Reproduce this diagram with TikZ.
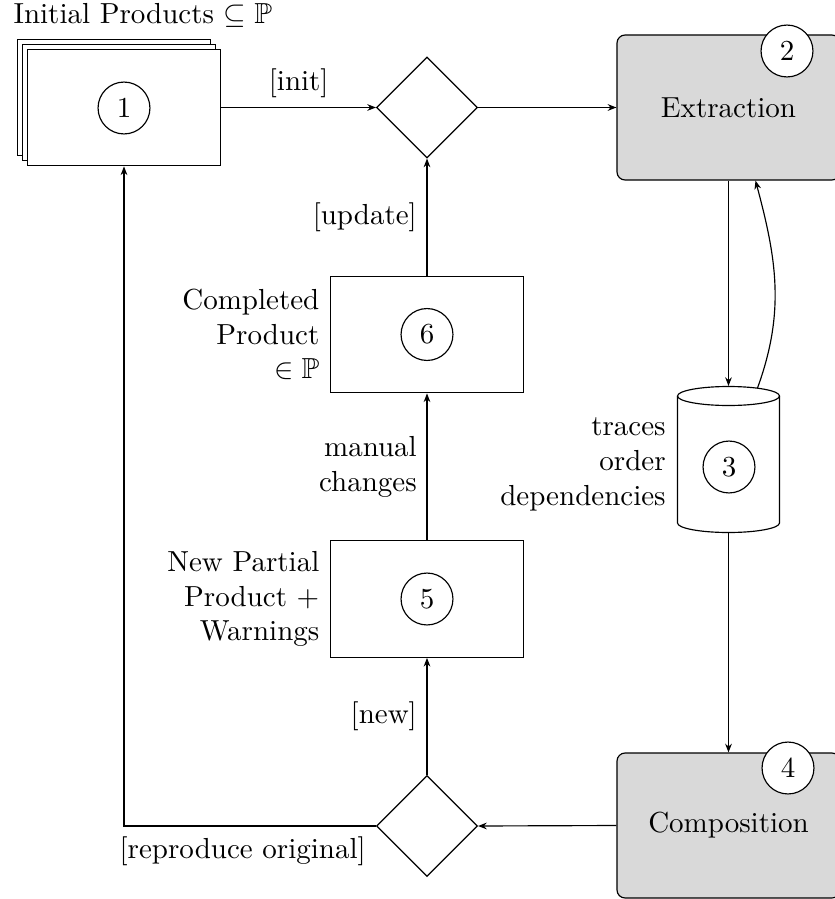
\documentclass[tikz,border=0pt]{standalone}
\usepackage{amssymb}
\usetikzlibrary{shapes.geometric,arrows.meta,calc}
\begin{document}
\begin{tikzpicture}[x=0.3448pt,y=0.3448pt,
  box/.style={draw, fill=white, minimum width=66.8pt, minimum height=40.2pt, inner sep=0pt},
  gbox/.style={draw, fill=black!15, rounded corners=2.8pt, minimum width=76.9pt, minimum height=50pt, inner sep=0pt},
  num/.style={draw, circle, fill=white, minimum size=17.9pt, inner sep=0pt},
  dec/.style={draw, diamond, minimum width=34.8pt, minimum height=34.8pt, inner sep=0pt, aspect=1},
  arr/.style={-{Stealth[length=3pt,width=2.3pt]}},
  lab/.style={align=right}
]
\useasboundingbox (0,0) rectangle (835,-899);
\clip (0,0) rectangle (835,-899);

% stacked products (1)
\node[box] (b1c) at (114,-97.5) {};
\node[box] (b1b) at (119,-102.5) {};
\node[box] (b1) at (124,-107.5) {};
\node[num] (n1) at (124,-108) {1};
\node[anchor=base west, inner sep=0pt] (title) at (13,-24) {Initial Products $\subseteq\mathbb{P}$};

% decisions
\node[dec] (d1) at (427,-107.5) {};
\node[dec] (d2) at (427,-826) {};

% extraction (2)
\node[gbox] (ext) at (728.5,-107.5) {Extraction};
\node[num] (n2) at (787,-51) {2};

% cylinder (3)
\node[minimum width=35.2pt, minimum height=50.3pt, inner sep=0pt] (cyl) at (728.5,-459.5) {};
\draw (677.5,-396) -- (677.5,-523) arc[start angle=180, end angle=360, x radius=51, y radius=9.5] -- (779.5,-396);
\draw (728.5,-396) ellipse [x radius=51, y radius=9.5];
\node[num] (n3) at (729,-467) {3};
\node[lab, anchor=east] (t3) at ($(cyl.west)+(-1,-5)$) {traces\\order\\dependencies};

% composition (4)
\node[gbox] (comp) at (728.5,-825.5) {Composition};
\node[num] (n4) at (788,-768) {4};

% new partial product (5)
\node[box] (b5) at (427,-599) {};
\node[num] (n5) at (427,-599) {5};
\node[lab, anchor=east] (t5) at (b5.west) {New Partial\\Product +\\Warnings};

% completed product (6)
\node[box] (b6) at (427,-334.5) {};
\node[num] (n6) at (427,-334.5) {6};
\node[lab, anchor=east] (t6) at (b6.west) {Completed\\Product\\$\in\mathbb{P}$};

% connectors
\draw[arr] (b1.east) -- node[midway, above] {[init]} (d1.west);
\draw[arr] (d1.east) -- (ext.west);
\draw[arr] (ext.south) -- (cyl.north);
\draw[arr] ($(cyl.north)+(29,-2)$) to[out=70,in=-75] ($(ext.south)+(27,0)$);
\draw[arr] (cyl.south) -- (comp.north);
\draw[arr] (comp.west) -- (d2.east);
\draw[arr] (d2.north) -- node[midway, left] {[new]} (b5.south);
\draw[arr] (b5.north) -- node[midway, left, lab] {manual\\changes} (b6.south);
\draw[arr] (b6.north) -- node[midway, left] {[update]} (d1.south);
\draw[arr] (d2.west) -| node[pos=0, anchor=north east] {[reproduce original]} (b1.south);
\end{tikzpicture}
\end{document}
